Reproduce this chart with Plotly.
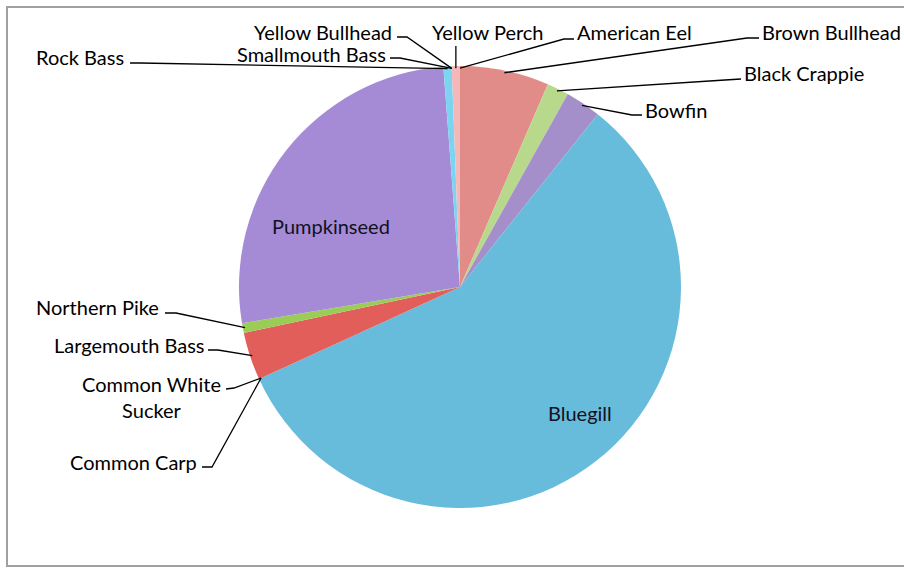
import math
import plotly.graph_objects as go

# ---- data (percent of catch) ----
species = ["American Eel", "Brown Bullhead", "Black Crappie", "Bowfin", "Bluegill",
           "Common Carp", "Common White Sucker", "Largemouth Bass", "Northern Pike",
           "Pumpkinseed", "Rock Bass", "Smallmouth Bass", "Yellow Bullhead", "Yellow Perch"]
values = [0, 6.5, 1.6, 2.6, 57.4, 0, 0, 3.5, 0.7, 26.4, 0.6, 0, 0, 0.6]
colors = ["#4F81BD", "#E28C89", "#B8D98C", "#A48FCB", "#68BCDB", "#F79646", "#4F81BD",
          "#E25E5A", "#9ACD55", "#A58BD6", "#7DD4F0", "#F79646", "#4F81BD", "#F4B8B8"]

W, H = 904, 569
CX, CY, R = 460, 287, 221   # pie centre / radius in pixels

FONT = "Lato"
FS = 20

def px(x):
    return x / W

def py(y):
    return 1 - y / H

# slice mid angles (clockwise from 12 o'clock) derived from values
total = sum(values)
mids = []
acc = 0
for v in values:
    mids.append((acc + v / 2) / total * 360)
    acc += v

def tip(i, f=0.99):
    a = math.radians(mids[i])
    return CX + f * R * math.sin(a), CY - f * R * math.cos(a)

fig = go.Figure(go.Pie(
    labels=species, values=values, sort=False, direction="clockwise", rotation=0,
    marker=dict(colors=colors, line=dict(width=0)),
    textinfo="none", hoverinfo="label+value", showlegend=False,
    domain=dict(x=[px(CX - R), px(CX + R)], y=[py(CY + R), py(CY - R)]),
))

# label layout: (species, text x, text y, xanchor, elbow start, elbow end)
outside = [
    ("American Eel", 575, 32, "left", (574, 39), (564, 39)),
    ("Brown Bullhead", 760, 32, "left", (759, 38), (747, 38)),
    ("Black Crappie", 742, 73, "left", (741, 79), (725, 80)),
    ("Bowfin", 643, 110, "left", (642, 115), (632, 115)),
    ("Yellow Bullhead", 394, 32, "right", (397, 37), (407, 37)),
    ("Smallmouth Bass", 388, 54, "right", (390, 58), (400, 58)),
    ("Rock Bass", 126, 57, "right", (130, 63), (140, 63)),
    ("Northern Pike", 161, 307, "right", (165, 313), (176, 313)),
    ("Largemouth Bass", 206, 345, "right", (208, 350), (218, 350)),
    ("Common Carp", 199, 462, "right", (202, 467), (212, 467)),
]

shapes = []
annotations = []
for name, tx, ty, xa, p0, p1 in outside:
    i = species.index(name)
    t = tip(i)
    path = f"M {px(p0[0])},{py(p0[1])} L {px(p1[0])},{py(p1[1])} L {px(t[0])},{py(t[1])}"
    shapes.append(dict(type="path", path=path, xref="paper", yref="paper",
                       line=dict(color="black", width=1.3)))
    annotations.append(dict(text=name, x=px(tx), y=py(ty), xref="paper", yref="paper",
                            xanchor=xa, yanchor="middle", showarrow=False,
                            font=dict(family=FONT, size=FS, color="black")))

# Yellow Perch: vertical leader
i = species.index("Yellow Perch")
t = tip(i)
shapes.append(dict(type="path", path=f"M {px(t[0])},{py(46)} L {px(t[0])},{py(t[1])}",
                   xref="paper", yref="paper", line=dict(color="black", width=1.3)))
annotations.append(dict(text="Yellow Perch", x=px(488), y=py(32), xref="paper", yref="paper",
                        xanchor="center", yanchor="middle", showarrow=False,
                        font=dict(family=FONT, size=FS, color="black")))

# Common White Sucker: two-line label
i = species.index("Common White Sucker")
t = tip(i)
shapes.append(dict(type="path",
                   path=f"M {px(226)},{py(389)} L {px(234)},{py(388)} L {px(t[0])},{py(t[1])}",
                   xref="paper", yref="paper", line=dict(color="black", width=1.3)))
annotations.append(dict(text="Common White<br>Sucker", x=px(151), y=py(397), xref="paper",
                        yref="paper", xanchor="center", yanchor="middle", showarrow=False,
                        align="center",
                        font=dict(family=FONT, size=FS, color="black")))

# inside labels
for name, tx, ty in [("Pumpkinseed", 331, 226), ("Bluegill", 580, 413)]:
    annotations.append(dict(text=name, x=px(tx), y=py(ty), xref="paper", yref="paper",
                            xanchor="center", yanchor="middle", showarrow=False,
                            font=dict(family=FONT, size=FS, color="#111122")))

# chart frame
shapes.append(dict(type="rect", xref="paper", yref="paper", x0=px(7), x1=px(912),
                   y0=py(566), y1=py(7), line=dict(color="#A0A0A0", width=2),
                   layer="below"))

fig.update_layout(width=W, height=H, margin=dict(l=0, r=0, t=0, b=0),
                  paper_bgcolor="white", plot_bgcolor="white",
                  shapes=shapes, annotations=annotations)

fig.write_html("out.html")
